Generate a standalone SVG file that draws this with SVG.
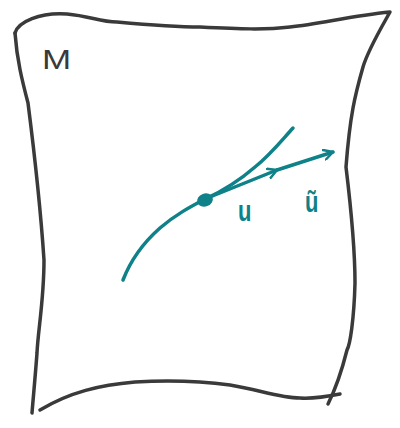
<svg xmlns="http://www.w3.org/2000/svg" width="400" height="428" viewBox="0 0 400 428">
<style>
.edge{fill:none;stroke:#3a3a3a;stroke-width:3.5;stroke-linecap:round;stroke-linejoin:round}
.teal{fill:none;stroke:#0f8189;stroke-width:3.5;stroke-linecap:round;stroke-linejoin:round}
.lbl{font-family:"Liberation Sans",Arial,sans-serif;fill:#0f8189;font-weight:bold}
.m{font-family:"Liberation Sans",Arial,sans-serif;fill:#3a3a3a}
</style>
<defs>
<marker id="ah" viewBox="0 0 12 12" refX="10" refY="6" markerWidth="12" markerHeight="12" markerUnits="userSpaceOnUse" orient="auto">
<path d="M1,1 L10,6 L1,11" fill="none" stroke="#0f8189" stroke-width="2.5" stroke-linecap="round" stroke-linejoin="round"/>
</marker>
</defs>
<rect width="400" height="428" fill="#ffffff"/>
<g id="surface">
<path class="edge" d="M15,33 C18,22 40,12 67,14 C90,16 100,22 117,22 C150,25 180,27 200,27 C240,29 265,30 290,27 C320,24 350,16 390,12 C380,30 368,50 363,67 C355,95 350,115 346,167 C350,200 355,250 355,283 C354,320 350,345 347,350 C342,370 335,390 328,404"/>
<path class="edge" d="M15,33 C17,60 22,80 28,103 C34,150 40,200 44,260 C44,300 38,330 37,353 C35,380 33,400 32,413"/>
<path class="edge" d="M40,410 C70,392 100,385 135,382 C170,380 200,381 230,385 C260,390 280,398 300,398 C315,399 330,396 340,394"/>
<text class="m" font-size="28" transform="translate(42,69) scale(1.25,1)">M</text>
</g>
<g id="connectors">
<path id="curve" class="teal" d="M123,280 C130,262 143,243 160,228 C175,215 190,207 205,199 C225,190 240,180 255,167 C270,155 282,140 293,128"/>
<path id="vec-u" class="teal" d="M205,199 L277,170" marker-end="url(#ah)"/>
<path id="vec-ut" class="teal" d="M277,170 L333,152" marker-end="url(#ah)"/>
</g>
<g id="point">
<ellipse cx="205" cy="200" rx="8" ry="6.5" fill="#0f8189" transform="rotate(-20 205 200)"/>
</g>
<g id="label-u">
<text class="lbl" font-size="22" transform="translate(238,221) scale(1,1.3)">u</text>
</g>
<g id="label-utilde">
<text class="lbl" font-size="22" transform="translate(305,212) scale(1,1.3)">ũ</text>
</g>
</svg>
